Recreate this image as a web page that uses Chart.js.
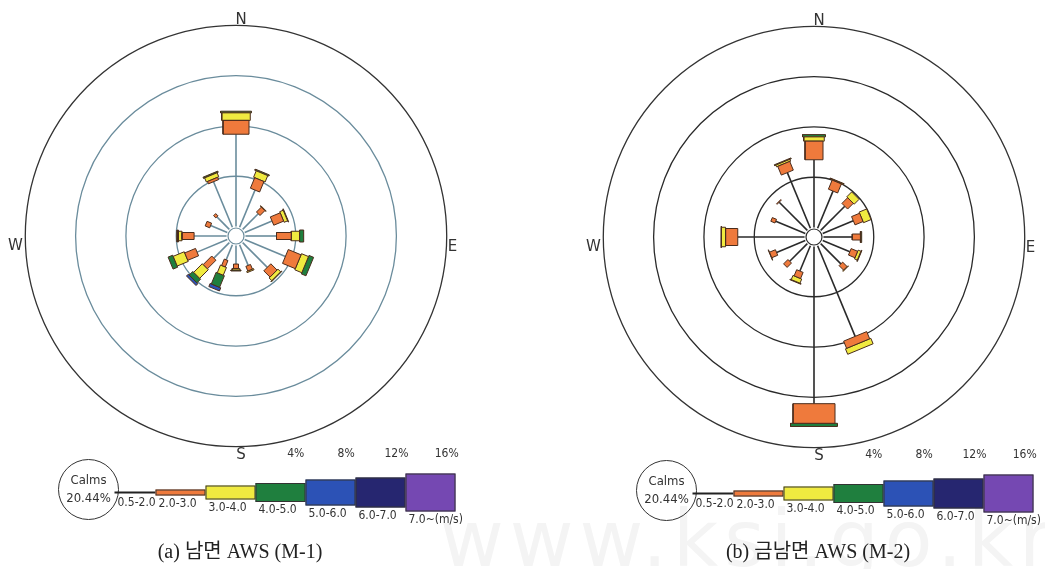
<!DOCTYPE html>
<html lang="ko">
<head>
  <meta charset="UTF-8">
  <title>Wind rose M-1 / M-2</title>
  <script src="https://cdn.jsdelivr.net/npm/chart.js"></script>
  <style>
    body {
      margin: 0;
      width: 1045px;
      height: 569px;
      background: #fff;
      overflow: hidden;
      position: relative;
    }
    canvas.rose {
      position: absolute;
    }
    .caption {
      position: absolute;
      top: 535px;
      width: 300px;
      text-align: center;
      font-family: "Liberation Serif", "Noto Sans CJK KR", serif;
      font-size: 20px;
      color: #222;
    }
    .mark {
      position: absolute;
      left: 440px;
      top: 494px;
      font-family: "DejaVu Sans", sans-serif;
      font-size: 78px;
      color: #f4f4f4;
      letter-spacing: 6px;
      white-space: nowrap;
    }
  </style>
</head>
<body>
  <div class="mark">www.ksi.go.kr</div>
  <canvas id="roseA" class="rose" width="460" height="530" style="left:5.5px; top:5.5px;"></canvas>
  <canvas id="roseB" class="rose" width="460" height="530" style="left:583.5px; top:6.5px;"></canvas>
  <div class="caption" style="left:90px;">(a) 남면 AWS (M-1)</div>
  <div class="caption" style="left:668px;">(b) 금남면 AWS (M-2)</div>

  <script>
    // 16 directions, clockwise from north
    const directions = ['N', 'NNE', 'NE', 'ENE', 'E', 'ESE', 'SE', 'SSE',
                        'S', 'SSW', 'SW', 'WSW', 'W', 'WNW', 'NW', 'NNW'];
    const speedClasses = ['0.5-2.0', '2.0-3.0', '3.0-4.0', '4.0-5.0', '5.0-6.0', '6.0-7.0', '7.0~(m/s)'];
    const ringTicks = [4, 8, 12, 16];
    const compassLabels = ['N', 'E', 'S', 'W'];

    // (a) 남면 AWS (M-1), frequency in % per speed class
    const m1Calms = 20.44;
    const m1Speed05 = [7.34, 3.2, 1.75, 2.35, 2.47, 3.5, 2.77, 1.78, 1.48, 1.3, 1.74, 2.6, 2.58, 1.43, 1.4, 3.92];
    const m1Speed20 = [1.1, 0.9, 0.55, 0.85, 1.17, 1.1, 0.7, 0.4, 0.35, 0.55, 0.96, 0.93, 0.96, 0.39, 0.25, 0.2];
    const m1Speed30 = [0.6, 0.55, 0.05, 0.3, 0.66, 0.6, 0.3, 0.1, 0.12, 0.67, 0.97, 0.95, 0.29, 0, 0, 0.35];
    const m1Speed40 = [0.13, 0.1, 0, 0.05, 0.33, 0.4, 0.05, 0, 0.08, 1.0, 0.41, 0.4, 0.1, 0, 0, 0.1];
    const m1Speed50 = [0, 0, 0, 0, 0, 0, 0, 0, 0, 0.27, 0.2, 0, 0, 0, 0, 0];

    // (b) 금남면 AWS (M-2)
    const m2Calms = 20.44;
    const m2Speed05 = [5.39, 3.2, 2.71, 2.63, 2.29, 2.33, 2.27, 7.8, 12.5, 2.18, 1.98, 2.47, 5.31, 2.54, 3.16, 4.79];
    const m2Speed20 = [1.48, 0.78, 0.64, 0.69, 0.65, 0.56, 0.5, 0.62, 1.56, 0.53, 0.49, 0.51, 0.97, 0.36, 0.06, 0.75];
    const m2Speed30 = [0.34, 0.05, 0.55, 0.65, 0, 0.24, 0.05, 0.47, 0, 0.36, 0, 0, 0.33, 0, 0, 0.15];
    const m2Speed40 = [0.18, 0.05, 0, 0, 0.1, 0.05, 0, 0, 0.25, 0.05, 0, 0.03, 0.03, 0, 0, 0.07];

    // --- look ---
    const PX_PER_PCT = 12.58;
    const CALM_OFFSET = 0.75;              // hole in the middle, in % units
    const AXIS_MAX = 230 / PX_PER_PCT;
    const classColors = ['#222222', '#ef7a3c', '#f0ea40', '#1f7f3e', '#2c52b6', '#262670', '#7548b2'];
    const blockEdge = '#4a2c1c';
    const legendBarH = [6, 14, 19, 26, 30, 38];
    const m1BlockW = [26, 10, 5, 9, 7, 15, 10, 5, 5, 4, 6, 8, 7, 5, 3, 11];
    const m2BlockW = [18, 10, 8, 9, 6, 7, 5, 25, 42, 7, 5, 6, 17, 4, 6, 13];
    const labelFont = '"DejaVu Sans Condensed", "DejaVu Sans"';

    function unitVec(i) {
      const a = i * Math.PI / 8;
      return { ux: Math.sin(a), uy: Math.cos(a), vx: Math.cos(a), vy: -Math.sin(a) };
    }

    function buildDatasets(classes, blockW, spokeColor) {
      const sets = [];
      directions.forEach((d, i) => {
        const u = unitVec(i);
        let r = CALM_OFFSET + classes[0][i];
        sets.push({
          data: [{ x: CALM_OFFSET * u.ux, y: CALM_OFFSET * u.uy }, { x: r * u.ux, y: r * u.uy }],
          showLine: true, fill: false, borderColor: spokeColor, borderWidth: 1.6,
          pointRadius: 0, order: 2
        });
        for (let k = 1; k < classes.length; k++) {
          const v = classes[k][i];
          if (!v) continue;
          const h = (blockW[i] + 2.5 * (k - 1)) / 2 / PX_PER_PCT;
          const r0 = r, r1 = r + v;
          const pts = [
            { x: r0 * u.ux + h * u.vx, y: r0 * u.uy + h * u.vy },
            { x: r1 * u.ux + h * u.vx, y: r1 * u.uy + h * u.vy },
            { x: r1 * u.ux - h * u.vx, y: r1 * u.uy - h * u.vy },
            { x: r0 * u.ux - h * u.vx, y: r0 * u.uy - h * u.vy },
            { x: r0 * u.ux + h * u.vx, y: r0 * u.uy + h * u.vy }
          ];
          sets.push({
            data: pts, showLine: true, fill: 'shape',
            backgroundColor: classColors[k], borderColor: blockEdge, borderWidth: 1,
            pointRadius: 0, tension: 0, order: 1
          });
          r = r1;
        }
      });
      return sets;
    }

    // rings, calm hole, compass letters, legend
    const roseDecor = {
      id: 'roseDecor',
      beforeDatasetsDraw(chart, args, opts) {
        const ctx = chart.ctx, xs = chart.scales.x, ys = chart.scales.y;
        const cx = xs.getPixelForValue(0), cy = ys.getPixelForValue(0);
        ctx.save();
        ringTicks.forEach((t, i) => {
          const rr = xs.getPixelForValue(CALM_OFFSET + t) - cx;
          ctx.beginPath();
          ctx.arc(cx, cy, rr, 0, Math.PI * 2);
          ctx.strokeStyle = i === ringTicks.length - 1 ? '#333' : opts.ringColor;
          ctx.lineWidth = 1.3;
          ctx.stroke();
        });
        ctx.restore();
      },
      afterDatasetsDraw(chart, args, opts) {
        const ctx = chart.ctx, xs = chart.scales.x, ys = chart.scales.y;
        const cx = xs.getPixelForValue(0), cy = ys.getPixelForValue(0);
        ctx.save();
        // calm hole
        ctx.beginPath();
        ctx.arc(cx, cy, 8, 0, Math.PI * 2);
        ctx.fillStyle = '#fff';
        ctx.fill();
        ctx.strokeStyle = opts.ringColor;
        ctx.lineWidth = 1.2;
        ctx.stroke();

        ctx.fillStyle = '#333';
        ctx.textAlign = 'center';
        ctx.textBaseline = 'middle';
        ctx.font = '15px "DejaVu Sans"';
        const off = { N: [5, -215.5], E: [216.5, 11], S: [5, 219.5], W: [-220.5, 10.5] };
        compassLabels.forEach(l => ctx.fillText(l, cx + off[l][0], cy + off[l][1]));

        ctx.font = '12px ' + labelFont;
        ringTicks.forEach(t => {
          ctx.fillText(t + '%', xs.getPixelForValue(CALM_OFFSET + t), cy + 217.5);
        });

        // legend
        const ly = cy + 256.5;
        ctx.beginPath();
        ctx.arc(cx - 147.5, ly - 3, 30, 0, Math.PI * 2);
        ctx.strokeStyle = '#333';
        ctx.lineWidth = 1;
        ctx.stroke();
        ctx.font = '13px ' + labelFont;
        ctx.fillText('Calms', cx - 147.5, cy + 244.5);
        ctx.fillText(opts.calms.toFixed(2) + '%', cx - 147.5, cy + 262.5);

        ctx.textAlign = 'left';
        ctx.textBaseline = 'top';
        ctx.font = '12px ' + labelFont;
        let x = cx - 121.5;
        ctx.fillStyle = '#222';
        ctx.fillRect(x, ly - 1, 41, 2);
        ctx.fillStyle = '#333';
        ctx.fillText(speedClasses[0], x + 3, ly + 4);
        x += 41;
        legendBarH.forEach((bh, k) => {
          ctx.fillStyle = classColors[k + 1];
          ctx.fillRect(x, ly - bh / 2, 50, bh);
          ctx.strokeStyle = '#333';
          ctx.strokeRect(x + 0.5, ly - bh / 2 + 0.5, 49, bh - 1);
          ctx.fillStyle = '#333';
          ctx.fillText(speedClasses[k + 1], x + 3, ly + bh / 2 + 2);
          x += 50;
        });
        ctx.restore();
      }
    };

    function makeRose(id, classes, blockW, calms, ringColor, spokeColor) {
      return new Chart(document.getElementById(id), {
        type: 'scatter',
        data: { datasets: buildDatasets(classes, blockW, spokeColor) },
        options: {
          responsive: false,
          animation: false,
          layout: { padding: { bottom: 70 } },
          scales: {
            x: { type: 'linear', min: -AXIS_MAX, max: AXIS_MAX, display: false },
            y: { type: 'linear', min: -AXIS_MAX, max: AXIS_MAX, display: false }
          },
          plugins: {
            legend: { display: false },
            tooltip: { enabled: false },
            roseDecor: { calms: calms, ringColor: ringColor }
          }
        },
        plugins: [roseDecor]
      });
    }

    makeRose('roseA', [m1Speed05, m1Speed20, m1Speed30, m1Speed40, m1Speed50], m1BlockW, m1Calms, '#6a8c9c', '#6a8c9c');
    makeRose('roseB', [m2Speed05, m2Speed20, m2Speed30, m2Speed40], m2BlockW, m2Calms, '#2a2a2a', '#2a2a2a');
  </script>
</body>
</html>
